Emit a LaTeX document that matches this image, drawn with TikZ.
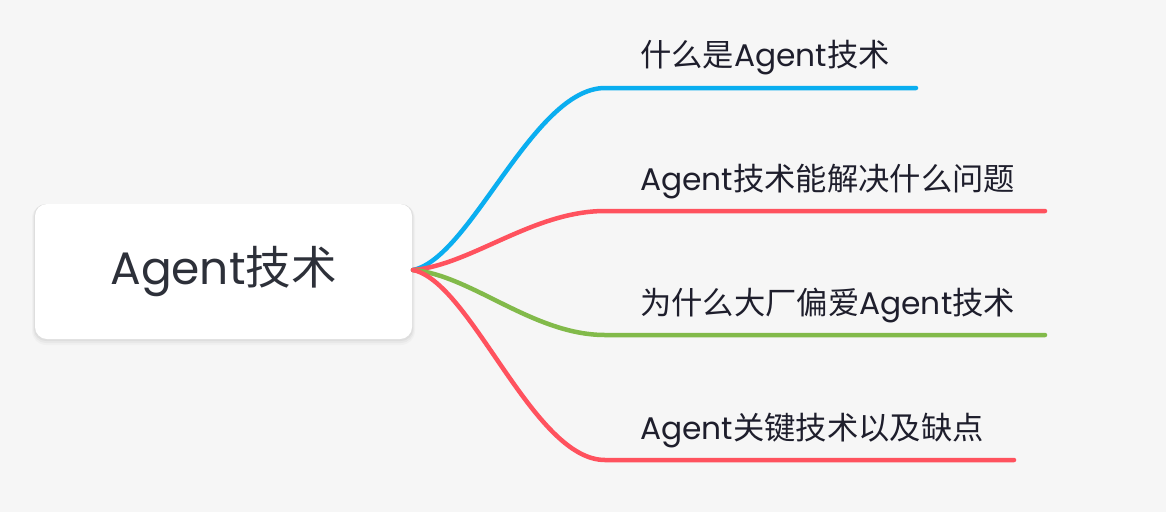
\documentclass[tikz,border=0pt]{standalone}
\usepackage{fontspec}
\setmainfont{Noto Sans CJK SC}
\newfontfamily\latinfont{Poppins}
\newcommand{\AG}{{\latinfont Agent}}
\definecolor{bgc}{HTML}{F6F6F6}
\definecolor{cblue}{HTML}{0AAEF0}
\definecolor{cred}{HTML}{FF525E}
\definecolor{cgreen}{HTML}{82BA4A}
\definecolor{ctext}{HTML}{1E1E2C}
\definecolor{croot}{HTML}{2D3039}
\tikzset{
  rootbox/.style={fill=white, rounded corners=12pt, minimum width=377pt, minimum height=135pt, inner sep=0pt, text=croot, font=\fontsize{45.5}{54}\selectfont},
  lbl/.style={anchor=west, inner sep=0pt, text=ctext, font=\fontsize{31.3}{37}\selectfont},
  branch/.style={line width=4.5pt, line cap=round},
}
\begin{document}
\begin{tikzpicture}[x=1pt,y=-1pt]
\useasboundingbox (0,0) rectangle (1166,512);
\fill[bgc] (0,0) rectangle (1166,512);
% shadow
\fill[black, opacity=0.025, rounded corners=14pt] (32,204) rectangle (415,345);
\fill[black, opacity=0.03, rounded corners=13pt] (33,204) rectangle (414,343);
\fill[black, opacity=0.04, rounded corners=12pt] (34,204) rectangle (413,341);
\node[rootbox] (root) at (223.5,271.5) {\AG 技术};
\coordinate (s) at (413,270);
\coordinate (e1) at (605,88);
\coordinate (e2) at (605,211);
\coordinate (e3) at (605,335);
\coordinate (e4) at (605,460);
\coordinate (t1) at (916,88);
\coordinate (t2) at (1045,211);
\coordinate (t3) at (1045,335);
\coordinate (t4) at (1014,460);
\draw[branch, cblue] (s) .. controls +(58,-12) and +(-72,0) .. (e1) -- (t1);
\draw[branch, cred] (s) .. controls +(58,-5) and +(-72,0) .. (e2) -- (t2);
\draw[branch, cgreen] (s) .. controls +(58,5) and +(-72,0) .. (e3) -- (t3);
\draw[branch, cred] (s) .. controls +(58,12) and +(-72,0) .. (e4) -- (t4);
\node[lbl] (l1) at (640,58) {什么是\AG 技术};
\node[lbl] (l2) at (640,182) {\AG 技术能解决什么问题};
\node[lbl] (l3) at (640,306) {为什么大厂偏爱\AG 技术};
\node[lbl] (l4) at (640,431) {\AG 关键技术以及缺点};
\end{tikzpicture}
\end{document}
